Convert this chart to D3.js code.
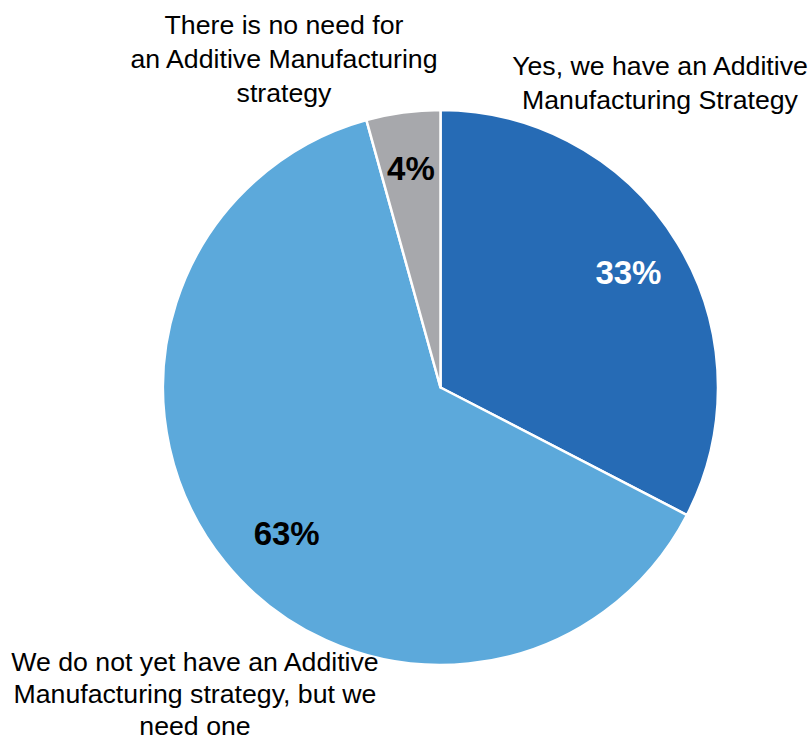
<!DOCTYPE html>
<html>
<head>
<meta charset="utf-8">
<script src="https://cdn.jsdelivr.net/npm/d3@7"></script>
<style>
  body { margin: 0; background: #fff; }
  svg { display: block; font-family: "Liberation Sans", Arial, sans-serif; }
</style>
</head>
<body>
<div id="chart"></div>
<script>
  // slice data, clockwise from 12 o'clock (shares)
  const categories = [
    'Yes, we have an Additive Manufacturing Strategy',
    'We do not yet have an Additive Manufacturing strategy, but we need one',
    'There is no need for an Additive Manufacturing strategy'
  ]
  const shares = [32.6, 63.1, 4.3]
  const sliceColors = ['#266bb5', '#5ca9db', '#a7a8ac']
  const valueColors = ['#ffffff', '#000000', '#000000']

  // category labels broken into lines as shown
  const labelLines = [
    ['Yes, we have an Additive', 'Manufacturing Strategy'],
    ['We do not yet have an Additive', 'Manufacturing strategy, but we', 'need one'],
    ['There is no need for', 'an Additive Manufacturing', 'strategy']
  ]

  const width = 810, height = 739
  const cx = 440.5, cy = 387.5, radius = 277.5

  const svg = d3.select('#chart')
    .append('svg')
    .attr('width', width)
    .attr('height', height)

  const data = categories.map((c, i) => ({ name: c, value: shares[i], color: sliceColors[i], textColor: valueColors[i], lines: labelLines[i] }))

  const pie = d3.pie().sort(null).value(d => d.value)
  const arcs = pie(data)

  const arc = d3.arc().innerRadius(0).outerRadius(radius)
  const labelArc = d3.arc().innerRadius(220).outerRadius(220)

  // small nudges for the percentage labels
  const pctNudge = [[0, -1], [17, 7], [0, -1]]

  const g = svg.append('g')
    .attr('transform', 'translate(' + cx + ',' + cy + ')')

  g.selectAll('path')
    .data(arcs)
    .enter()
    .append('path')
    .attr('d', arc)
    .attr('fill', d => d.data.color)
    .attr('stroke', '#ffffff')
    .attr('stroke-width', 2.5)
    .attr('stroke-linejoin', 'round')

  // percentages inside slices
  g.selectAll('.pct')
    .data(arcs)
    .enter()
    .append('text')
    .attr('class', 'pct')
    .attr('transform', (d, i) => {
      const c = labelArc.centroid(d)
      return 'translate(' + (c[0] + pctNudge[i][0]) + ',' + (c[1] + pctNudge[i][1]) + ')'
    })
    .attr('text-anchor', 'middle')
    .attr('dy', '0.36em')
    .attr('font-size', '33px')
    .attr('font-weight', 700)
    .attr('fill', d => d.data.textColor)
    .text(d => Math.round(d.data.value) + '%')

  // outside category labels (anchor x, first baseline y, line step)
  const labelPos = [
    { x: 660, y: 75, step: 34 },
    { x: 195, y: 671, step: 32 },
    { x: 284, y: 34, step: 34 }
  ]

  data.forEach((d, i) => {
    const p = labelPos[i]
    const t = svg.append('text')
      .attr('text-anchor', 'middle')
      .attr('font-size', '26.7px')
      .attr('fill', '#000')
    d.lines.forEach((line, j) => {
      t.append('tspan')
        .attr('x', p.x)
        .attr('y', p.y + j * p.step)
        .text(line)
    })
  })
</script>
</body>
</html>
